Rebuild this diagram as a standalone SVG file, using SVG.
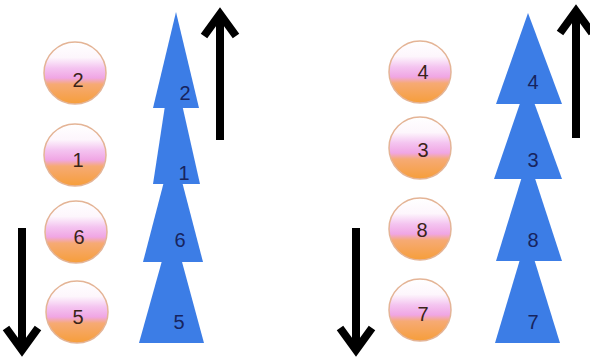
<svg xmlns="http://www.w3.org/2000/svg" width="590" height="360" viewBox="0 0 590 360">
<defs>
<linearGradient id="ball" x1="0" y1="0" x2="0" y2="1">
<stop offset="0" stop-color="#ffffff"/>
<stop offset="0.25" stop-color="#fdf6fc"/>
<stop offset="0.42" stop-color="#f4c4f0"/>
<stop offset="0.58" stop-color="#f0a6e4"/>
<stop offset="0.68" stop-color="#f6aa74"/>
<stop offset="1" stop-color="#f69e3a"/>
</linearGradient>
<style>
.ball{fill:url(#ball);stroke:#e4b496;stroke-width:1.5}
.tri{fill:#3c7de6}
.bl{font-family:"Liberation Sans",Arial,sans-serif;font-size:20px;fill:#3a2418;text-anchor:middle;dominant-baseline:central}
.tl{font-family:"Liberation Sans",Arial,sans-serif;font-size:20px;fill:#17245e;text-anchor:middle;dominant-baseline:central}
.arr{fill:none;stroke:#000;stroke-width:8;stroke-linejoin:miter}
</style>
</defs>
<rect width="590" height="360" fill="#fff"/>
<g id="ball-2"><circle class="ball" cx="75" cy="73" r="31"/><text class="bl" x="78" y="80">2</text></g>
<g id="ball-1"><circle class="ball" cx="75" cy="155" r="31"/><text class="bl" x="78" y="160">1</text></g>
<g id="ball-6"><circle class="ball" cx="76" cy="232" r="31"/><text class="bl" x="79" y="237">6</text></g>
<g id="ball-5"><circle class="ball" cx="77" cy="312" r="31"/><text class="bl" x="78" y="317">5</text></g>
<g id="ball-4"><circle class="ball" cx="420" cy="72" r="31"/><text class="bl" x="423" y="72">4</text></g>
<g id="ball-3"><circle class="ball" cx="420" cy="148" r="31"/><text class="bl" x="423" y="150">3</text></g>
<g id="ball-8"><circle class="ball" cx="420" cy="229" r="31"/><text class="bl" x="422" y="230">8</text></g>
<g id="ball-7"><circle class="ball" cx="420" cy="310" r="31"/><text class="bl" x="423" y="314">7</text></g>
<g id="cone-5"><polygon class="tri" points="172,225 204,343 139,343"/><text class="tl" x="179" y="322">5</text></g>
<g id="cone-6"><polygon class="tri" points="173,147 203,262 143,262"/><text class="tl" x="180" y="240">6</text></g>
<g id="cone-1"><polygon class="tri" points="172,60 200,184 153,184"/><text class="tl" x="184" y="173">1</text></g>
<g id="cone-2"><polygon class="tri" points="176,12 199,108 153,108"/><text class="tl" x="185" y="93">2</text></g>
<g id="cone-7"><polygon class="tri" points="527,236 560,343 495,343"/><text class="tl" x="533" y="322">7</text></g>
<g id="cone-8"><polygon class="tri" points="528,157 562,261 496,261"/><text class="tl" x="533" y="240">8</text></g>
<g id="cone-3"><polygon class="tri" points="527,83 562,179 494,179"/><text class="tl" x="533" y="160">3</text></g>
<g id="cone-4"><polygon class="tri" points="528,13 562,104 496,104"/><text class="tl" x="533" y="82">4</text></g>
<g id="connectors">
<path class="arr" d="M220,140 V14 M204,36 L220,14 L236,36"/>
<path class="arr" d="M22,228 V350 M6,328 L22,350 L38,328"/>
<path class="arr" d="M576,138 V11 M560,33 L576,11 L592,33"/>
<path class="arr" d="M356,228 V350 M340,328 L356,350 L372,328"/>
</g>
</svg>
